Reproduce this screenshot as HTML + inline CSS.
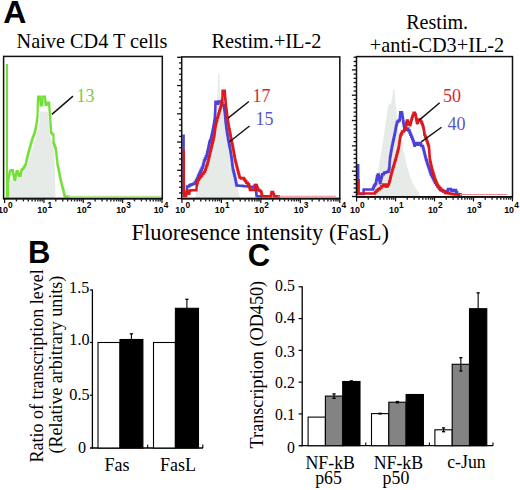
<!DOCTYPE html>
<html><head><meta charset="utf-8"><style>
html,body{margin:0;padding:0;background:#fff;}
body{width:520px;height:490px;overflow:hidden;}
svg{display:block;}
</style></head><body>
<svg width="520" height="490" viewBox="0 0 520 490">
<rect width="520" height="490" fill="#fff"/>
<text x="3.2" y="22.8" font-family="Liberation Sans" font-weight="bold" font-size="32">A</text>
<text x="27.9" y="262.8" font-family="Liberation Sans" font-weight="bold" font-size="31">B</text>
<text x="247.8" y="265.8" font-family="Liberation Sans" font-weight="bold" font-size="31">C</text>
<text x="16.5" y="47.8" font-family="Liberation Serif" font-size="20.3">Naive CD4 T cells</text>
<text x="211.4" y="48" font-family="Liberation Serif" font-size="20.3">Restim.+IL-2</text>
<text x="406.2" y="29" font-family="Liberation Serif" font-size="20.1">Restim.</text>
<text x="369.8" y="52" font-family="Liberation Serif" font-size="20.3">+anti-CD3+IL-2</text>
<text x="131.5" y="239.7" font-family="Liberation Serif" font-size="22.5">Fluoresence intensity (FasL)</text>
<polygon points="8.0,198.0 8.0,182.0 12.0,179.0 18.0,178.0 22.0,175.0 26.0,168.0 29.0,160.0 32.0,150.0 35.0,140.0 38.0,130.0 39.5,120.0 40.0,111.5 48.0,111.5 49.0,120.0 49.5,133.0 52.0,141.0 54.5,150.0 55.5,198.0" fill="#e7ebe7" stroke="none"/>
<polygon points="195.0,198.0 198.0,186.0 201.0,175.0 204.0,163.0 207.0,150.0 210.0,138.0 213.0,124.0 215.0,112.0 216.5,102.0 217.6,95.0 218.0,74.0 219.5,74.0 220.0,94.0 221.5,100.0 223.5,110.0 225.0,120.0 226.5,130.0 228.0,142.0 230.0,155.0 232.0,168.0 235.0,180.0 238.0,190.0 240.0,198.0" fill="#e7ebe7" stroke="none"/>
<polygon points="374.0,197.0 374.9,190.0 377.3,178.0 379.0,166.0 381.0,153.5 383.0,141.0 384.7,129.0 386.5,117.0 388.0,106.0 389.0,104.5 391.0,104.0 392.5,96.0 393.1,89.5 394.6,89.5 395.3,100.0 395.7,104.5 397.0,117.0 398.2,129.0 401.0,141.0 404.3,153.5 407.0,166.0 410.4,178.0 413.0,184.0 415.3,187.8 419.0,192.7 420.0,197.0" fill="#e7ebe7" stroke="none"/>
<polyline points="6.9,64.0 6.9,196.3 8.0,196.3 8.0,183.0 8.0,180.8 8.4,180.8 8.4,178.6 8.8,178.6 8.8,176.4 9.2,176.4 9.2,174.2 9.6,174.2 9.6,172.0 10.0,172.0 10.0,171.0 11.2,171.0 11.2,170.0 12.5,170.0 12.9,170.0 12.9,172.0 13.2,172.0 13.2,174.0 13.6,174.0 13.6,176.0 14.0,176.0 14.0,178.0 14.5,178.0 14.5,179.5 15.0,179.5 15.0,181.0 15.0,179.0 15.4,179.0 15.4,177.0 15.8,177.0 15.8,175.0 16.2,175.0 16.2,173.0 16.6,173.0 16.6,171.0 17.0,171.0 17.7,171.0 17.7,172.7 18.3,172.7 18.3,174.3 19.0,174.3 19.0,176.0 20.5,176.0 20.5,174.2 20.9,174.2 20.9,172.4 21.3,172.4 21.3,170.6 21.7,170.6 21.7,169.4 22.9,169.4 22.9,168.3 24.0,168.3 24.0,166.7 24.9,166.7 24.9,165.0 25.7,165.0 25.7,163.5 26.1,163.5 26.1,161.9 26.4,161.9 26.4,160.4 26.8,160.4 26.8,158.7 27.2,158.7 27.2,157.1 27.6,157.1 27.6,155.4 28.1,155.4 28.1,153.7 28.5,153.7 28.5,151.7 29.1,151.7 29.1,149.7 29.6,149.7 29.6,147.6 30.2,147.6 30.2,145.6 30.7,145.6 30.7,143.6 31.3,143.6 31.3,141.7 31.9,141.7 31.9,139.9 32.4,139.9 32.4,138.0 33.0,138.0 33.0,136.5 33.6,136.5 33.6,135.0 34.1,135.0 34.1,133.5 34.7,133.5 34.7,131.8 35.1,131.8 35.1,130.1 35.5,130.1 35.5,128.4 35.9,128.4 35.9,126.7 36.3,126.7 36.3,124.5 36.6,124.5 36.6,122.3 36.9,122.3 36.9,120.2 37.2,120.2 37.2,118.0 37.5,118.0 37.8,104.0 37.8,102.1 37.9,102.1 37.9,100.2 38.0,100.2 38.0,98.4 38.1,98.4 38.1,96.5 38.2,96.5 40.0,96.5 40.1,96.5 40.1,98.3 40.2,98.3 40.2,100.1 40.4,100.1 40.4,101.9 40.5,101.9 40.5,103.7 40.6,103.7 40.6,105.5 42.2,105.5 42.2,103.7 42.3,103.7 42.3,101.9 42.4,101.9 42.4,100.1 42.5,100.1 42.5,98.3 42.6,98.3 42.6,96.5 42.7,96.5 44.9,96.5 45.0,96.5 45.0,98.6 45.2,98.6 45.2,100.8 45.4,100.8 45.4,102.9 45.5,102.9 45.5,105.0 46.8,105.0 47.1,102.5 49.0,102.5 49.1,102.5 49.1,104.4 49.2,104.4 49.2,106.2 49.4,106.2 49.4,108.1 49.5,108.1 49.5,110.0 49.7,110.0 49.7,112.0 49.8,112.0 49.8,114.0 50.0,114.0 50.0,116.0 50.1,116.0 50.1,118.0 50.3,118.0 50.3,120.0 50.4,120.0 50.4,122.2 50.5,122.2 50.5,124.3 50.6,124.3 50.6,126.5 50.8,126.5 50.8,128.7 50.9,128.7 50.9,130.8 51.0,130.8 51.0,133.0 52.2,133.0 52.2,134.5 53.5,134.5 53.5,136.0 53.5,143.0 54.1,143.0 54.1,144.8 54.7,144.8 54.7,146.5 55.3,146.5 55.3,148.2 55.9,148.2 55.9,150.0 56.1,150.0 56.1,152.1 56.4,152.1 56.4,154.3 56.6,154.3 56.6,156.4 56.8,156.4 56.8,158.6 57.0,158.6 57.0,160.7 57.3,160.7 57.3,162.9 57.5,162.9 57.5,165.0 57.9,165.0 57.9,167.1 58.4,167.1 58.4,169.3 58.8,169.3 58.8,171.4 59.2,171.4 59.2,173.6 59.6,173.6 59.6,175.7 60.1,175.7 60.1,177.9 60.5,177.9 60.5,180.0 61.0,180.0 61.0,182.0 61.5,182.0 61.5,184.1 62.0,184.1 62.0,186.1 62.5,186.1 62.5,188.2 63.1,188.2 63.1,190.2 63.6,190.2 63.6,192.2 64.1,192.2 64.1,194.3 64.6,194.3 64.6,196.3 70.0,196.3" fill="none" stroke="#74df3a" stroke-width="2.2" stroke-linejoin="miter" stroke-linecap="butt"/>
<line x1="68" y1="196.4" x2="161.5" y2="196.4" stroke="#b8e89c" stroke-width="1.1"/>
<polyline points="183.6,134.6 183.6,193.0 187.0,193.0 187.0,186.5 189.0,186.5 189.0,185.6 190.3,185.6 190.3,184.7 191.7,184.7 191.7,184.2 193.3,184.2 193.3,183.8 194.9,183.8 194.9,181.9 196.1,181.9 196.1,180.1 197.2,180.1 197.2,178.0 198.1,178.0 198.1,175.8 199.0,175.8 199.0,173.7 199.9,173.7 199.9,171.7 200.8,171.7 200.8,169.7 201.8,169.7 201.8,167.7 202.7,167.7 202.7,166.0 203.1,166.0 203.1,164.4 203.6,164.4 203.6,162.7 204.0,162.7 204.0,160.6 204.9,160.6 204.9,158.4 205.9,158.4 205.9,156.3 206.8,156.3 206.8,154.2 207.2,154.2 207.2,152.2 207.7,152.2 207.7,150.1 208.2,150.1 208.2,148.0 208.6,148.0 208.6,146.3 208.9,146.3 208.9,144.7 209.3,144.7 209.3,143.0 209.6,143.0 209.6,141.6 210.2,141.6 210.2,140.2 210.8,140.2 210.8,138.5 211.2,138.5 211.2,136.8 211.6,136.8 211.6,135.2 212.0,135.2 212.0,133.5 212.4,133.5 212.4,131.4 212.8,131.4 212.8,129.4 213.2,129.4 213.2,127.3 213.6,127.3 213.6,125.5 213.9,125.5 213.9,123.7 214.2,123.7 214.2,121.8 214.5,121.8 214.5,120.0 214.8,120.0 214.8,118.0 214.9,118.0 214.9,116.0 215.0,116.0 215.0,114.0 215.1,114.0 215.1,112.0 215.2,112.0 215.2,110.0 215.3,110.0 215.5,101.7 217.0,101.7 217.5,101.7 217.5,103.3 218.0,103.3 218.0,105.0 218.0,103.2 218.5,103.2 218.5,101.5 219.0,101.5 221.6,101.5 222.1,101.5 222.1,103.2 222.5,103.2 222.5,105.0 223.8,105.0 223.8,106.1 224.1,106.1 224.1,108.2 224.4,108.2 224.4,110.4 224.7,110.4 224.7,112.5 224.9,112.5 224.9,114.3 225.1,114.3 225.1,116.2 225.2,116.2 225.2,118.0 225.4,118.0 225.4,119.9 225.6,119.9 225.6,121.7 225.8,121.7 225.8,123.8 226.1,123.8 226.1,125.8 226.3,125.8 226.3,127.9 226.6,127.9 226.6,130.0 226.9,130.0 226.9,132.0 227.2,132.0 227.2,134.0 227.6,134.0 227.6,136.0 227.9,136.0 227.9,138.0 228.2,138.0 228.2,140.0 228.6,140.0 228.6,142.0 229.0,142.0 229.0,144.0 229.4,144.0 229.4,146.0 229.8,146.0 229.8,148.0 230.2,148.0 230.2,150.0 230.5,150.0 230.5,151.7 230.7,151.7 230.7,153.3 231.0,153.3 231.0,155.0 231.3,155.0 231.3,157.1 231.6,157.1 231.6,159.3 231.9,159.3 231.9,161.4 232.1,161.4 232.1,163.6 232.4,163.6 232.4,165.7 232.7,165.7 232.7,167.9 233.0,167.9 233.0,170.0 233.5,170.0 233.5,172.0 234.0,172.0 234.0,174.0 234.5,174.0 234.5,176.0 235.0,176.0 235.0,178.0 235.4,178.0 235.4,179.9 235.8,179.9 235.8,181.8 236.1,181.8 236.1,183.6 236.5,183.6 236.5,185.5 238.4,185.5 238.4,185.7 240.3,185.7 240.3,185.8 242.2,185.8 242.2,186.0 244.2,186.0 244.2,186.2 246.1,186.2 246.1,186.3 248.0,186.3 248.0,186.5 250.0,186.5 250.0,187.0 252.0,187.0 252.0,187.5 254.0,187.5 254.0,188.0 254.0,186.5 254.8,186.5 254.8,185.0 255.6,185.0 255.8,185.0 255.8,187.2 256.0,187.2 256.0,189.4 256.1,189.4 256.1,191.6 256.3,191.6 256.3,193.8 256.5,193.8 256.5,196.0 258.0,196.2 262.0,196.2" fill="none" stroke="#4a40dc" stroke-width="2.5" stroke-linejoin="miter" stroke-linecap="butt"/>
<polyline points="183.8,150.0 183.8,196.0 186.0,196.0 186.0,194.3 186.3,194.3 186.3,192.7 186.7,192.7 186.7,191.0 187.0,191.0 188.0,191.0 188.0,193.0 189.0,193.0 189.0,195.0 189.0,193.1 189.4,193.1 189.4,191.1 189.8,191.1 189.8,190.6 191.2,190.6 191.2,190.2 192.6,190.2 196.3,190.2 196.7,186.5 196.7,184.7 197.2,184.7 197.2,182.8 197.6,182.8 197.6,181.0 198.1,181.0 198.1,179.7 199.0,179.7 199.0,178.3 199.9,178.3 199.9,176.9 201.1,176.9 201.1,175.5 202.2,175.5 202.2,173.7 203.6,173.7 203.6,171.9 205.0,171.9 205.0,169.7 205.8,169.7 205.8,167.6 206.5,167.6 206.5,165.4 207.3,165.4 207.3,163.6 207.8,163.6 207.8,161.8 208.2,161.8 208.2,159.9 208.7,159.9 208.7,158.1 209.1,158.1 209.1,156.3 209.6,156.3 209.6,154.4 210.0,154.4 210.0,152.6 210.4,152.6 210.4,150.8 210.9,150.8 210.9,148.9 211.3,148.9 211.3,147.1 211.8,147.1 211.8,145.2 212.2,145.2 212.2,143.3 212.7,143.3 212.7,141.2 213.2,141.2 213.2,139.2 213.7,139.2 213.7,137.1 214.2,137.1 214.2,135.1 214.5,135.1 214.5,133.2 214.7,133.2 214.7,131.2 215.0,131.2 215.0,129.3 215.2,129.3 215.2,127.3 215.5,127.3 215.5,125.5 215.9,125.5 215.9,123.7 216.3,123.7 216.3,121.8 216.8,121.8 216.8,120.0 217.2,120.0 217.2,117.8 217.9,117.8 217.9,115.6 218.5,115.6 218.5,113.4 219.2,113.4 219.2,111.3 219.8,111.3 219.8,109.3 220.4,109.3 220.4,107.2 221.0,107.2 221.0,105.4 221.3,105.4 221.3,103.6 221.7,103.6 221.7,101.8 222.1,101.8 222.1,100.0 222.4,100.0 222.6,90.8 224.8,90.8 225.2,98.8 225.4,98.8 225.4,100.6 225.6,100.6 225.6,102.4 225.7,102.4 225.7,104.3 225.9,104.3 225.9,106.1 226.1,106.1 226.1,107.9 226.3,107.9 226.3,109.8 226.6,109.8 226.6,111.6 226.8,111.6 226.8,113.5 227.0,113.5 227.0,115.3 227.3,115.3 227.3,117.4 227.6,117.4 227.6,119.6 227.9,119.6 227.9,121.7 228.2,121.7 228.2,123.5 228.5,123.5 228.5,125.4 228.8,125.4 228.8,127.2 229.2,127.2 229.2,129.3 229.6,129.3 229.6,131.5 230.0,131.5 230.0,133.6 230.4,133.6 230.4,135.7 230.8,135.7 230.8,137.9 231.2,137.9 231.2,140.0 231.6,140.0 231.6,142.0 232.0,142.0 232.0,144.0 232.5,144.0 232.5,146.0 232.9,146.0 232.9,148.0 233.3,148.0 233.3,150.0 233.6,150.0 233.6,152.0 234.0,152.0 234.0,154.0 234.3,154.0 234.3,156.0 234.7,156.0 234.7,158.0 235.0,158.0 235.0,160.0 235.5,160.0 235.5,162.0 236.0,162.0 236.0,164.0 236.5,164.0 236.5,166.0 237.0,166.0 237.0,168.0 237.5,168.0 237.5,170.0 238.0,170.0 238.0,172.0 238.5,172.0 238.5,173.8 239.0,173.8 239.0,175.5 239.5,175.5 239.5,177.2 240.0,177.2 240.0,179.0 240.0,178.5 241.5,178.5 241.5,178.0 243.0,178.0 244.0,178.0 244.0,179.5 245.0,179.5 245.0,181.0 246.3,181.0 246.3,182.7 247.7,182.7 247.7,184.3 249.0,184.3 249.0,186.0 249.5,186.0 249.5,188.0 250.0,188.0 250.0,190.0 255.0,190.0 255.0,188.3 255.3,188.3 255.3,186.7 255.7,186.7 255.7,185.0 256.0,185.0 256.7,185.0 256.7,186.7 257.3,186.7 257.3,188.3 258.0,188.3 258.0,190.0 259.5,190.0 259.5,191.0 261.0,191.0 261.0,192.0 261.5,192.0 261.5,194.1 262.0,194.1 262.0,196.2 271.0,196.2 271.0,194.1 271.5,194.1 271.5,192.0 272.0,192.0 273.0,192.0 273.0,194.1 274.0,194.1 274.0,196.2 280.0,196.2" fill="none" stroke="#dc1a1e" stroke-width="2.5" stroke-linejoin="miter" stroke-linecap="butt"/>
<line x1="278" y1="196.3" x2="336" y2="196.3" stroke="#ea8a8e" stroke-width="1.1"/>
<polyline points="358.2,164.0 358.2,194.0 363.6,194.0 363.6,189.6 373.0,189.6 373.0,188.3 373.5,188.3 373.5,187.0 374.0,187.0 374.0,185.5 375.0,185.5 375.0,184.0 376.0,184.0 376.0,182.0 376.3,182.0 376.3,180.0 376.7,180.0 376.7,178.0 377.0,178.0 377.0,176.2 377.7,176.2 377.7,174.4 378.4,174.4 378.7,174.4 378.7,176.4 379.1,176.4 379.1,178.4 379.4,178.4 379.4,180.5 379.8,180.5 379.8,182.5 380.1,182.5 380.1,184.5 380.1,182.4 380.6,182.4 380.6,180.2 381.1,180.2 381.1,178.1 381.7,178.1 381.7,176.0 382.2,176.0 382.2,174.3 383.9,174.3 383.9,172.7 385.6,172.7 385.6,172.2 387.1,172.2 387.1,171.8 388.6,171.8 388.6,170.2 389.0,170.2 389.0,168.5 389.4,168.5 389.4,166.4 389.5,166.4 389.5,164.2 389.6,164.2 389.6,162.1 389.8,162.1 389.8,160.0 389.9,160.0 389.9,158.0 390.2,158.0 390.2,156.1 390.6,156.1 390.6,154.1 390.9,154.1 390.9,152.1 391.2,152.1 391.2,150.2 391.6,150.2 391.6,148.2 391.9,148.2 391.9,146.0 392.4,146.0 392.4,143.9 392.8,143.9 392.8,141.7 393.3,141.7 393.3,139.6 393.8,139.6 393.8,137.4 394.2,137.4 394.2,135.3 394.7,135.3 394.7,133.5 395.0,133.5 395.0,131.7 395.4,131.7 395.4,129.8 395.7,129.8 395.7,128.0 396.0,128.0 396.0,126.1 396.5,126.1 396.5,124.3 396.9,124.3 396.9,122.4 397.4,122.4 397.4,121.5 398.5,121.5 398.5,120.6 399.7,120.6 399.7,118.4 399.9,118.4 399.9,116.2 400.1,116.2 400.1,114.0 400.3,114.0 400.3,112.3 401.1,112.3 401.8,112.3 402.0,112.3 402.0,113.9 402.3,113.9 402.3,115.4 402.5,115.4 402.5,117.0 402.8,117.0 402.8,119.1 403.1,119.1 403.1,121.2 403.4,121.2 403.4,123.3 403.7,123.3 403.7,124.9 404.0,124.9 404.0,126.4 404.3,126.4 404.3,128.0 405.0,128.0 405.0,129.5 405.7,129.5 405.7,131.0 405.7,129.8 406.4,129.8 406.4,128.6 407.0,128.6 408.3,128.6 408.3,130.6 409.6,130.6 409.6,132.7 410.4,132.7 410.4,134.7 411.3,134.7 411.3,136.8 412.1,136.8 412.1,138.8 412.9,138.8 412.9,140.9 413.7,140.9 413.7,142.9 414.2,142.9 414.2,144.9 414.7,144.9 414.7,147.0 414.7,145.0 415.4,145.0 415.4,143.0 416.2,143.0 417.2,143.0 417.2,144.5 418.3,144.5 418.3,146.0 418.3,144.5 419.1,144.5 419.1,143.0 419.8,143.0 420.6,143.0 420.6,144.5 421.3,144.5 421.3,146.0 422.5,146.0 423.0,146.0 423.0,148.0 423.5,148.0 423.5,150.0 424.0,150.0 424.0,152.0 424.5,152.0 424.5,154.0 425.0,154.0 425.0,156.0 425.5,156.0 425.5,158.0 426.0,158.0 426.0,160.0 426.7,160.0 426.7,162.0 427.3,162.0 427.3,164.0 428.0,164.0 428.0,166.0 428.6,166.0 428.6,167.8 429.2,167.8 429.2,169.6 429.8,169.6 429.8,171.4 430.4,171.4 430.4,173.2 431.0,173.2 431.0,175.0 432.0,175.0 432.0,177.0 433.0,177.0 433.0,179.0 434.0,179.0 434.0,181.0 435.0,181.0 435.0,183.0 436.2,183.0 436.2,184.8 437.5,184.8 437.5,186.5 438.8,186.5 438.8,188.2 440.0,188.2 440.0,190.0 441.7,190.0 441.7,190.7 443.3,190.7 443.3,191.3 445.0,191.3 445.0,192.0 445.0,191.5 446.5,191.5 446.5,191.0 448.0,191.0 448.0,189.0 450.0,189.0 451.0,189.0 451.0,190.5 452.0,190.5 452.0,192.0 452.0,191.0 453.5,191.0 453.5,190.0 455.0,190.0 456.0,190.0 456.0,192.0 457.0,192.0 457.0,194.0 458.5,194.0 458.5,194.5 460.0,194.5 460.0,195.0" fill="none" stroke="#4a40dc" stroke-width="2.5" stroke-linejoin="miter" stroke-linecap="butt"/>
<polyline points="358.6,179.0 358.6,193.4 375.0,193.4 375.0,191.9 376.5,191.9 376.5,190.4 378.0,190.4 378.0,189.2 379.7,189.2 379.7,188.0 381.4,188.0 381.4,186.2 383.1,186.2 383.1,184.5 384.8,184.5 385.6,184.5 385.6,186.2 386.5,186.2 386.5,188.0 386.5,186.2 387.8,186.2 387.8,184.5 389.0,184.5 389.0,182.8 389.4,182.8 389.4,181.2 389.9,181.2 389.9,179.5 390.3,179.5 390.3,177.8 390.7,177.8 390.7,176.1 391.1,176.1 391.1,174.4 391.5,174.4 391.5,172.4 392.1,172.4 392.1,170.5 392.6,170.5 392.6,168.5 393.2,168.5 393.2,166.4 393.9,166.4 393.9,164.2 394.5,164.2 394.5,162.1 395.1,162.1 395.1,160.0 395.8,160.0 395.8,158.5 396.1,158.5 396.1,157.0 396.5,157.0 396.5,155.2 397.0,155.2 397.0,153.5 397.4,153.5 397.4,151.7 397.9,151.7 397.9,150.0 398.3,150.0 398.3,148.2 398.8,148.2 398.8,146.0 399.1,146.0 399.1,143.9 399.4,143.9 399.4,141.7 399.7,141.7 399.7,139.9 400.0,139.9 400.0,138.0 400.3,138.0 400.3,136.2 400.6,136.2 400.6,134.8 401.3,134.8 401.3,133.5 402.0,133.5 402.0,131.6 403.9,131.6 403.9,130.2 404.8,130.2 404.8,128.9 405.7,128.9 405.7,127.0 406.0,127.0 406.0,125.2 406.3,125.2 406.3,123.3 406.6,123.3 406.6,121.8 406.9,121.8 406.9,120.4 407.2,120.4 407.9,120.4 407.9,122.5 408.6,122.5 408.6,124.5 410.1,124.5 410.1,126.5 410.1,124.5 410.6,124.5 410.6,122.4 411.1,122.4 411.1,120.4 411.6,120.4 411.6,118.5 412.2,118.5 412.2,116.6 412.9,116.6 412.9,114.7 413.6,114.7 413.6,112.8 414.2,112.8 414.9,112.8 414.9,114.5 415.7,114.5 415.7,116.3 416.1,116.3 416.1,118.3 416.4,118.3 416.4,120.4 416.8,120.4 416.8,122.5 417.2,122.5 417.2,124.5 417.2,122.8 417.9,122.8 417.9,121.1 418.6,121.1 418.6,119.4 419.3,119.4 420.3,119.4 420.3,120.9 421.3,120.9 421.3,122.4 422.1,122.4 422.1,124.5 422.9,124.5 422.9,126.5 423.4,126.5 423.4,128.6 423.9,128.6 423.9,130.6 424.1,130.6 424.1,132.6 424.4,132.6 424.4,134.7 425.1,134.7 425.1,136.8 425.9,136.8 425.9,138.8 426.6,138.8 426.6,140.9 427.4,140.9 427.4,142.9 427.9,142.9 427.9,144.6 428.5,144.6 428.5,146.3 429.0,146.3 429.0,148.0 429.1,148.0 429.1,150.0 429.3,150.0 429.3,152.0 429.4,152.0 429.4,154.0 429.5,154.0 429.5,156.0 429.7,156.0 429.7,158.0 429.8,158.0 429.8,160.0 430.2,160.0 430.2,162.0 430.7,162.0 430.7,164.0 431.1,164.0 431.1,166.0 431.6,166.0 431.6,168.0 432.0,168.0 432.0,170.0 432.6,170.0 432.6,172.0 433.2,172.0 433.2,174.0 433.8,174.0 433.8,176.0 434.4,176.0 434.4,178.0 435.0,178.0 435.0,180.0 435.8,180.0 435.8,181.8 436.5,181.8 436.5,183.5 437.2,183.5 437.2,185.2 438.0,185.2 438.0,187.0 439.5,187.0 439.5,188.5 441.0,188.5 441.0,190.0 443.0,190.0 443.0,191.5 445.0,191.5 445.0,193.0 447.0,193.0 447.0,193.3 449.0,193.3 449.0,193.6 451.0,193.6 451.0,193.9 453.0,193.9 453.0,194.2 455.0,194.2 455.0,194.5 462.0,194.5" fill="none" stroke="#dc1a1e" stroke-width="2.5" stroke-linejoin="miter" stroke-linecap="butt"/>
<line x1="460" y1="194.5" x2="507.5" y2="194.5" stroke="#ea8a8e" stroke-width="1.1"/>
<rect x="3.6" y="56.4" width="158.70000000000002" height="142.2" fill="none" stroke="#111" stroke-width="1.5"/>
<line x1="3.1" y1="198.6" x2="162.8" y2="198.6" stroke="#111" stroke-width="1.9"/>
<line x1="4.6" y1="198.6" x2="4.6" y2="203.1" stroke="#111" stroke-width="1.2"/>
<line x1="16.44553032937766" y1="198.6" x2="16.44553032937766" y2="201.4" stroke="#222" stroke-width="1.4"/>
<line x1="23.37472137321872" y1="198.6" x2="23.37472137321872" y2="201.4" stroke="#222" stroke-width="1.4"/>
<line x1="28.29106065875532" y1="198.6" x2="28.29106065875532" y2="201.4" stroke="#222" stroke-width="1.4"/>
<line x1="32.10446967062234" y1="198.6" x2="32.10446967062234" y2="201.4" stroke="#222" stroke-width="1.4"/>
<line x1="35.22025170259638" y1="198.6" x2="35.22025170259638" y2="201.4" stroke="#222" stroke-width="1.4"/>
<line x1="37.85460787456101" y1="198.6" x2="37.85460787456101" y2="201.4" stroke="#222" stroke-width="1.4"/>
<line x1="40.13659098813298" y1="198.6" x2="40.13659098813298" y2="201.4" stroke="#222" stroke-width="1.4"/>
<line x1="42.14944274643744" y1="198.6" x2="42.14944274643744" y2="201.4" stroke="#222" stroke-width="1.4"/>
<line x1="43.95" y1="198.6" x2="43.95" y2="203.1" stroke="#111" stroke-width="1.2"/>
<line x1="55.79553032937766" y1="198.6" x2="55.79553032937766" y2="201.4" stroke="#222" stroke-width="1.4"/>
<line x1="62.72472137321872" y1="198.6" x2="62.72472137321872" y2="201.4" stroke="#222" stroke-width="1.4"/>
<line x1="67.64106065875532" y1="198.6" x2="67.64106065875532" y2="201.4" stroke="#222" stroke-width="1.4"/>
<line x1="71.45446967062233" y1="198.6" x2="71.45446967062233" y2="201.4" stroke="#222" stroke-width="1.4"/>
<line x1="74.57025170259638" y1="198.6" x2="74.57025170259638" y2="201.4" stroke="#222" stroke-width="1.4"/>
<line x1="77.204607874561" y1="198.6" x2="77.204607874561" y2="201.4" stroke="#222" stroke-width="1.4"/>
<line x1="79.48659098813297" y1="198.6" x2="79.48659098813297" y2="201.4" stroke="#222" stroke-width="1.4"/>
<line x1="81.49944274643742" y1="198.6" x2="81.49944274643742" y2="201.4" stroke="#222" stroke-width="1.4"/>
<line x1="83.3" y1="198.6" x2="83.3" y2="203.1" stroke="#111" stroke-width="1.2"/>
<line x1="95.14553032937766" y1="198.6" x2="95.14553032937766" y2="201.4" stroke="#222" stroke-width="1.4"/>
<line x1="102.07472137321872" y1="198.6" x2="102.07472137321872" y2="201.4" stroke="#222" stroke-width="1.4"/>
<line x1="106.99106065875532" y1="198.6" x2="106.99106065875532" y2="201.4" stroke="#222" stroke-width="1.4"/>
<line x1="110.80446967062234" y1="198.6" x2="110.80446967062234" y2="201.4" stroke="#222" stroke-width="1.4"/>
<line x1="113.92025170259639" y1="198.6" x2="113.92025170259639" y2="201.4" stroke="#222" stroke-width="1.4"/>
<line x1="116.55460787456101" y1="198.6" x2="116.55460787456101" y2="201.4" stroke="#222" stroke-width="1.4"/>
<line x1="118.83659098813298" y1="198.6" x2="118.83659098813298" y2="201.4" stroke="#222" stroke-width="1.4"/>
<line x1="120.84944274643743" y1="198.6" x2="120.84944274643743" y2="201.4" stroke="#222" stroke-width="1.4"/>
<line x1="122.65" y1="198.6" x2="122.65" y2="203.1" stroke="#111" stroke-width="1.2"/>
<line x1="134.49553032937766" y1="198.6" x2="134.49553032937766" y2="201.4" stroke="#222" stroke-width="1.4"/>
<line x1="141.42472137321872" y1="198.6" x2="141.42472137321872" y2="201.4" stroke="#222" stroke-width="1.4"/>
<line x1="146.3410606587553" y1="198.6" x2="146.3410606587553" y2="201.4" stroke="#222" stroke-width="1.4"/>
<line x1="150.15446967062235" y1="198.6" x2="150.15446967062235" y2="201.4" stroke="#222" stroke-width="1.4"/>
<line x1="153.2702517025964" y1="198.6" x2="153.2702517025964" y2="201.4" stroke="#222" stroke-width="1.4"/>
<line x1="155.904607874561" y1="198.6" x2="155.904607874561" y2="201.4" stroke="#222" stroke-width="1.4"/>
<line x1="158.186590988133" y1="198.6" x2="158.186590988133" y2="201.4" stroke="#222" stroke-width="1.4"/>
<line x1="160.19944274643743" y1="198.6" x2="160.19944274643743" y2="201.4" stroke="#222" stroke-width="1.4"/>
<line x1="162.0" y1="198.6" x2="162.0" y2="203.1" stroke="#111" stroke-width="1.2"/>
<text x="7.9" y="212.7" font-family="Liberation Sans" font-size="8.9" font-weight="bold" text-anchor="end">10</text>
<text x="8.1" y="207.6" font-family="Liberation Sans" font-size="8.3" font-weight="bold">0</text>
<text x="47.2" y="212.7" font-family="Liberation Sans" font-size="8.9" font-weight="bold" text-anchor="end">10</text>
<text x="47.5" y="207.6" font-family="Liberation Sans" font-size="8.3" font-weight="bold">1</text>
<text x="86.6" y="212.7" font-family="Liberation Sans" font-size="8.9" font-weight="bold" text-anchor="end">10</text>
<text x="86.8" y="207.6" font-family="Liberation Sans" font-size="8.3" font-weight="bold">2</text>
<text x="126.0" y="212.7" font-family="Liberation Sans" font-size="8.9" font-weight="bold" text-anchor="end">10</text>
<text x="126.2" y="207.6" font-family="Liberation Sans" font-size="8.3" font-weight="bold">3</text>
<text x="163.5" y="212.7" font-family="Liberation Sans" font-size="8.9" font-weight="bold" text-anchor="end">10</text>
<text x="163.7" y="207.6" font-family="Liberation Sans" font-size="8.3" font-weight="bold">4</text>
<rect x="181.7" y="56.9" width="158.10000000000002" height="141.7" fill="none" stroke="#111" stroke-width="1.5"/>
<line x1="181.2" y1="198.6" x2="340.3" y2="198.6" stroke="#111" stroke-width="1.9"/>
<line x1="181.9" y1="198.6" x2="181.9" y2="203.1" stroke="#111" stroke-width="1.2"/>
<line x1="193.78165392885734" y1="198.6" x2="193.78165392885734" y2="201.4" stroke="#222" stroke-width="1.4"/>
<line x1="200.7319759237851" y1="198.6" x2="200.7319759237851" y2="201.4" stroke="#222" stroke-width="1.4"/>
<line x1="205.66330785771467" y1="198.6" x2="205.66330785771467" y2="201.4" stroke="#222" stroke-width="1.4"/>
<line x1="209.48834607114267" y1="198.6" x2="209.48834607114267" y2="201.4" stroke="#222" stroke-width="1.4"/>
<line x1="212.61362985264242" y1="198.6" x2="212.61362985264242" y2="201.4" stroke="#222" stroke-width="1.4"/>
<line x1="215.2560196393627" y1="198.6" x2="215.2560196393627" y2="201.4" stroke="#222" stroke-width="1.4"/>
<line x1="217.544961786572" y1="198.6" x2="217.544961786572" y2="201.4" stroke="#222" stroke-width="1.4"/>
<line x1="219.56395184757017" y1="198.6" x2="219.56395184757017" y2="201.4" stroke="#222" stroke-width="1.4"/>
<line x1="221.37" y1="198.6" x2="221.37" y2="203.1" stroke="#111" stroke-width="1.2"/>
<line x1="233.25165392885734" y1="198.6" x2="233.25165392885734" y2="201.4" stroke="#222" stroke-width="1.4"/>
<line x1="240.20197592378508" y1="198.6" x2="240.20197592378508" y2="201.4" stroke="#222" stroke-width="1.4"/>
<line x1="245.13330785771467" y1="198.6" x2="245.13330785771467" y2="201.4" stroke="#222" stroke-width="1.4"/>
<line x1="248.95834607114267" y1="198.6" x2="248.95834607114267" y2="201.4" stroke="#222" stroke-width="1.4"/>
<line x1="252.08362985264242" y1="198.6" x2="252.08362985264242" y2="201.4" stroke="#222" stroke-width="1.4"/>
<line x1="254.72601963936273" y1="198.6" x2="254.72601963936273" y2="201.4" stroke="#222" stroke-width="1.4"/>
<line x1="257.01496178657203" y1="198.6" x2="257.01496178657203" y2="201.4" stroke="#222" stroke-width="1.4"/>
<line x1="259.03395184757017" y1="198.6" x2="259.03395184757017" y2="201.4" stroke="#222" stroke-width="1.4"/>
<line x1="260.84000000000003" y1="198.6" x2="260.84000000000003" y2="203.1" stroke="#111" stroke-width="1.2"/>
<line x1="272.72165392885734" y1="198.6" x2="272.72165392885734" y2="201.4" stroke="#222" stroke-width="1.4"/>
<line x1="279.6719759237851" y1="198.6" x2="279.6719759237851" y2="201.4" stroke="#222" stroke-width="1.4"/>
<line x1="284.6033078577147" y1="198.6" x2="284.6033078577147" y2="201.4" stroke="#222" stroke-width="1.4"/>
<line x1="288.42834607114264" y1="198.6" x2="288.42834607114264" y2="201.4" stroke="#222" stroke-width="1.4"/>
<line x1="291.5536298526424" y1="198.6" x2="291.5536298526424" y2="201.4" stroke="#222" stroke-width="1.4"/>
<line x1="294.1960196393627" y1="198.6" x2="294.1960196393627" y2="201.4" stroke="#222" stroke-width="1.4"/>
<line x1="296.48496178657206" y1="198.6" x2="296.48496178657206" y2="201.4" stroke="#222" stroke-width="1.4"/>
<line x1="298.50395184757014" y1="198.6" x2="298.50395184757014" y2="201.4" stroke="#222" stroke-width="1.4"/>
<line x1="300.31" y1="198.6" x2="300.31" y2="203.1" stroke="#111" stroke-width="1.2"/>
<line x1="312.19165392885736" y1="198.6" x2="312.19165392885736" y2="201.4" stroke="#222" stroke-width="1.4"/>
<line x1="319.1419759237851" y1="198.6" x2="319.1419759237851" y2="201.4" stroke="#222" stroke-width="1.4"/>
<line x1="324.07330785771467" y1="198.6" x2="324.07330785771467" y2="201.4" stroke="#222" stroke-width="1.4"/>
<line x1="327.89834607114267" y1="198.6" x2="327.89834607114267" y2="201.4" stroke="#222" stroke-width="1.4"/>
<line x1="331.02362985264244" y1="198.6" x2="331.02362985264244" y2="201.4" stroke="#222" stroke-width="1.4"/>
<line x1="333.66601963936273" y1="198.6" x2="333.66601963936273" y2="201.4" stroke="#222" stroke-width="1.4"/>
<line x1="335.954961786572" y1="198.6" x2="335.954961786572" y2="201.4" stroke="#222" stroke-width="1.4"/>
<line x1="337.97395184757016" y1="198.6" x2="337.97395184757016" y2="201.4" stroke="#222" stroke-width="1.4"/>
<line x1="339.78" y1="198.6" x2="339.78" y2="203.1" stroke="#111" stroke-width="1.2"/>
<text x="185.2" y="212.7" font-family="Liberation Sans" font-size="8.9" font-weight="bold" text-anchor="end">10</text>
<text x="185.4" y="207.6" font-family="Liberation Sans" font-size="8.3" font-weight="bold">0</text>
<text x="224.7" y="212.7" font-family="Liberation Sans" font-size="8.9" font-weight="bold" text-anchor="end">10</text>
<text x="224.9" y="207.6" font-family="Liberation Sans" font-size="8.3" font-weight="bold">1</text>
<text x="264.1" y="212.7" font-family="Liberation Sans" font-size="8.9" font-weight="bold" text-anchor="end">10</text>
<text x="264.3" y="207.6" font-family="Liberation Sans" font-size="8.3" font-weight="bold">2</text>
<text x="303.6" y="212.7" font-family="Liberation Sans" font-size="8.9" font-weight="bold" text-anchor="end">10</text>
<text x="303.8" y="207.6" font-family="Liberation Sans" font-size="8.3" font-weight="bold">3</text>
<text x="341.3" y="212.7" font-family="Liberation Sans" font-size="8.9" font-weight="bold" text-anchor="end">10</text>
<text x="341.5" y="207.6" font-family="Liberation Sans" font-size="8.3" font-weight="bold">4</text>
<rect x="356.5" y="56.6" width="156.0" height="140.3" fill="none" stroke="#111" stroke-width="1.5"/>
<line x1="356.0" y1="196.9" x2="513.0" y2="196.9" stroke="#111" stroke-width="1.9"/>
<line x1="356.6" y1="196.9" x2="356.6" y2="201.4" stroke="#111" stroke-width="1.2"/>
<line x1="368.33113893102535" y1="196.9" x2="368.33113893102535" y2="199.70000000000002" stroke="#222" stroke-width="1.4"/>
<line x1="375.19341529642526" y1="196.9" x2="375.19341529642526" y2="199.70000000000002" stroke="#222" stroke-width="1.4"/>
<line x1="380.06227786205073" y1="196.9" x2="380.06227786205073" y2="199.70000000000002" stroke="#222" stroke-width="1.4"/>
<line x1="383.83886106897467" y1="196.9" x2="383.83886106897467" y2="199.70000000000002" stroke="#222" stroke-width="1.4"/>
<line x1="386.9245542274506" y1="196.9" x2="386.9245542274506" y2="199.70000000000002" stroke="#222" stroke-width="1.4"/>
<line x1="389.5334706193556" y1="196.9" x2="389.5334706193556" y2="199.70000000000002" stroke="#222" stroke-width="1.4"/>
<line x1="391.79341679307606" y1="196.9" x2="391.79341679307606" y2="199.70000000000002" stroke="#222" stroke-width="1.4"/>
<line x1="393.7868305928505" y1="196.9" x2="393.7868305928505" y2="199.70000000000002" stroke="#222" stroke-width="1.4"/>
<line x1="395.57000000000005" y1="196.9" x2="395.57000000000005" y2="201.4" stroke="#111" stroke-width="1.2"/>
<line x1="407.3011389310254" y1="196.9" x2="407.3011389310254" y2="199.70000000000002" stroke="#222" stroke-width="1.4"/>
<line x1="414.1634152964253" y1="196.9" x2="414.1634152964253" y2="199.70000000000002" stroke="#222" stroke-width="1.4"/>
<line x1="419.0322778620507" y1="196.9" x2="419.0322778620507" y2="199.70000000000002" stroke="#222" stroke-width="1.4"/>
<line x1="422.8088610689747" y1="196.9" x2="422.8088610689747" y2="199.70000000000002" stroke="#222" stroke-width="1.4"/>
<line x1="425.8945542274506" y1="196.9" x2="425.8945542274506" y2="199.70000000000002" stroke="#222" stroke-width="1.4"/>
<line x1="428.5034706193556" y1="196.9" x2="428.5034706193556" y2="199.70000000000002" stroke="#222" stroke-width="1.4"/>
<line x1="430.7634167930761" y1="196.9" x2="430.7634167930761" y2="199.70000000000002" stroke="#222" stroke-width="1.4"/>
<line x1="432.7568305928505" y1="196.9" x2="432.7568305928505" y2="199.70000000000002" stroke="#222" stroke-width="1.4"/>
<line x1="434.54" y1="196.9" x2="434.54" y2="201.4" stroke="#111" stroke-width="1.2"/>
<line x1="446.27113893102535" y1="196.9" x2="446.27113893102535" y2="199.70000000000002" stroke="#222" stroke-width="1.4"/>
<line x1="453.13341529642526" y1="196.9" x2="453.13341529642526" y2="199.70000000000002" stroke="#222" stroke-width="1.4"/>
<line x1="458.00227786205073" y1="196.9" x2="458.00227786205073" y2="199.70000000000002" stroke="#222" stroke-width="1.4"/>
<line x1="461.77886106897466" y1="196.9" x2="461.77886106897466" y2="199.70000000000002" stroke="#222" stroke-width="1.4"/>
<line x1="464.86455422745064" y1="196.9" x2="464.86455422745064" y2="199.70000000000002" stroke="#222" stroke-width="1.4"/>
<line x1="467.4734706193556" y1="196.9" x2="467.4734706193556" y2="199.70000000000002" stroke="#222" stroke-width="1.4"/>
<line x1="469.73341679307606" y1="196.9" x2="469.73341679307606" y2="199.70000000000002" stroke="#222" stroke-width="1.4"/>
<line x1="471.7268305928505" y1="196.9" x2="471.7268305928505" y2="199.70000000000002" stroke="#222" stroke-width="1.4"/>
<line x1="473.51" y1="196.9" x2="473.51" y2="201.4" stroke="#111" stroke-width="1.2"/>
<line x1="485.2411389310254" y1="196.9" x2="485.2411389310254" y2="199.70000000000002" stroke="#222" stroke-width="1.4"/>
<line x1="492.1034152964253" y1="196.9" x2="492.1034152964253" y2="199.70000000000002" stroke="#222" stroke-width="1.4"/>
<line x1="496.97227786205076" y1="196.9" x2="496.97227786205076" y2="199.70000000000002" stroke="#222" stroke-width="1.4"/>
<line x1="500.74886106897463" y1="196.9" x2="500.74886106897463" y2="199.70000000000002" stroke="#222" stroke-width="1.4"/>
<line x1="503.8345542274506" y1="196.9" x2="503.8345542274506" y2="199.70000000000002" stroke="#222" stroke-width="1.4"/>
<line x1="506.4434706193556" y1="196.9" x2="506.4434706193556" y2="199.70000000000002" stroke="#222" stroke-width="1.4"/>
<line x1="508.70341679307603" y1="196.9" x2="508.70341679307603" y2="199.70000000000002" stroke="#222" stroke-width="1.4"/>
<line x1="510.6968305928505" y1="196.9" x2="510.6968305928505" y2="199.70000000000002" stroke="#222" stroke-width="1.4"/>
<line x1="512.48" y1="196.9" x2="512.48" y2="201.4" stroke="#111" stroke-width="1.2"/>
<text x="359.9" y="212.7" font-family="Liberation Sans" font-size="8.9" font-weight="bold" text-anchor="end">10</text>
<text x="360.1" y="207.6" font-family="Liberation Sans" font-size="8.3" font-weight="bold">0</text>
<text x="398.9" y="212.7" font-family="Liberation Sans" font-size="8.9" font-weight="bold" text-anchor="end">10</text>
<text x="399.1" y="207.6" font-family="Liberation Sans" font-size="8.3" font-weight="bold">1</text>
<text x="437.8" y="212.7" font-family="Liberation Sans" font-size="8.9" font-weight="bold" text-anchor="end">10</text>
<text x="438.0" y="207.6" font-family="Liberation Sans" font-size="8.3" font-weight="bold">2</text>
<text x="476.8" y="212.7" font-family="Liberation Sans" font-size="8.9" font-weight="bold" text-anchor="end">10</text>
<text x="477.0" y="207.6" font-family="Liberation Sans" font-size="8.3" font-weight="bold">3</text>
<text x="514.0" y="212.7" font-family="Liberation Sans" font-size="8.9" font-weight="bold" text-anchor="end">10</text>
<text x="514.2" y="207.6" font-family="Liberation Sans" font-size="8.3" font-weight="bold">4</text>
<line x1="177.1" y1="57.3" x2="181.7" y2="57.3" stroke="#111" stroke-width="1.3"/>
<line x1="179.1" y1="62.949999999999996" x2="181.7" y2="62.949999999999996" stroke="#111" stroke-width="1.3"/>
<line x1="179.1" y1="68.6" x2="181.7" y2="68.6" stroke="#111" stroke-width="1.3"/>
<line x1="179.1" y1="74.25" x2="181.7" y2="74.25" stroke="#111" stroke-width="1.3"/>
<line x1="179.1" y1="79.9" x2="181.7" y2="79.9" stroke="#111" stroke-width="1.3"/>
<line x1="177.1" y1="85.55" x2="181.7" y2="85.55" stroke="#111" stroke-width="1.3"/>
<line x1="179.1" y1="91.2" x2="181.7" y2="91.2" stroke="#111" stroke-width="1.3"/>
<line x1="179.1" y1="96.85" x2="181.7" y2="96.85" stroke="#111" stroke-width="1.3"/>
<line x1="179.1" y1="102.5" x2="181.7" y2="102.5" stroke="#111" stroke-width="1.3"/>
<line x1="179.1" y1="108.15" x2="181.7" y2="108.15" stroke="#111" stroke-width="1.3"/>
<line x1="177.1" y1="113.8" x2="181.7" y2="113.8" stroke="#111" stroke-width="1.3"/>
<line x1="179.1" y1="119.45" x2="181.7" y2="119.45" stroke="#111" stroke-width="1.3"/>
<line x1="179.1" y1="125.10000000000001" x2="181.7" y2="125.10000000000001" stroke="#111" stroke-width="1.3"/>
<line x1="179.1" y1="130.75" x2="181.7" y2="130.75" stroke="#111" stroke-width="1.3"/>
<line x1="179.1" y1="136.4" x2="181.7" y2="136.4" stroke="#111" stroke-width="1.3"/>
<line x1="177.1" y1="142.05" x2="181.7" y2="142.05" stroke="#111" stroke-width="1.3"/>
<line x1="179.1" y1="147.7" x2="181.7" y2="147.7" stroke="#111" stroke-width="1.3"/>
<line x1="179.1" y1="153.35000000000002" x2="181.7" y2="153.35000000000002" stroke="#111" stroke-width="1.3"/>
<line x1="179.1" y1="159.0" x2="181.7" y2="159.0" stroke="#111" stroke-width="1.3"/>
<line x1="179.1" y1="164.65" x2="181.7" y2="164.65" stroke="#111" stroke-width="1.3"/>
<line x1="177.1" y1="170.3" x2="181.7" y2="170.3" stroke="#111" stroke-width="1.3"/>
<line x1="179.1" y1="175.95" x2="181.7" y2="175.95" stroke="#111" stroke-width="1.3"/>
<line x1="179.1" y1="181.60000000000002" x2="181.7" y2="181.60000000000002" stroke="#111" stroke-width="1.3"/>
<line x1="179.1" y1="187.25" x2="181.7" y2="187.25" stroke="#111" stroke-width="1.3"/>
<line x1="179.1" y1="192.90000000000003" x2="181.7" y2="192.90000000000003" stroke="#111" stroke-width="1.3"/>
<line x1="177.1" y1="198.55" x2="181.7" y2="198.55" stroke="#111" stroke-width="1.3"/>
<line x1="351.9" y1="196.5" x2="356.5" y2="196.5" stroke="#111" stroke-width="1.3"/>
<line x1="353.6" y1="192.28" x2="356.5" y2="192.28" stroke="#111" stroke-width="1.3"/>
<line x1="353.6" y1="188.06" x2="356.5" y2="188.06" stroke="#111" stroke-width="1.3"/>
<line x1="353.6" y1="183.84" x2="356.5" y2="183.84" stroke="#111" stroke-width="1.3"/>
<line x1="353.6" y1="179.62" x2="356.5" y2="179.62" stroke="#111" stroke-width="1.3"/>
<line x1="353.6" y1="175.4" x2="356.5" y2="175.4" stroke="#111" stroke-width="1.3"/>
<line x1="351.9" y1="171.18" x2="356.5" y2="171.18" stroke="#111" stroke-width="1.3"/>
<line x1="353.6" y1="166.96" x2="356.5" y2="166.96" stroke="#111" stroke-width="1.3"/>
<line x1="353.6" y1="162.74" x2="356.5" y2="162.74" stroke="#111" stroke-width="1.3"/>
<line x1="353.6" y1="158.52" x2="356.5" y2="158.52" stroke="#111" stroke-width="1.3"/>
<line x1="353.6" y1="154.3" x2="356.5" y2="154.3" stroke="#111" stroke-width="1.3"/>
<line x1="353.6" y1="150.08" x2="356.5" y2="150.08" stroke="#111" stroke-width="1.3"/>
<line x1="351.9" y1="145.86" x2="356.5" y2="145.86" stroke="#111" stroke-width="1.3"/>
<line x1="353.6" y1="141.64" x2="356.5" y2="141.64" stroke="#111" stroke-width="1.3"/>
<line x1="353.6" y1="137.42000000000002" x2="356.5" y2="137.42000000000002" stroke="#111" stroke-width="1.3"/>
<line x1="353.6" y1="133.2" x2="356.5" y2="133.2" stroke="#111" stroke-width="1.3"/>
<line x1="353.6" y1="128.98000000000002" x2="356.5" y2="128.98000000000002" stroke="#111" stroke-width="1.3"/>
<line x1="353.6" y1="124.76" x2="356.5" y2="124.76" stroke="#111" stroke-width="1.3"/>
<line x1="351.9" y1="120.54" x2="356.5" y2="120.54" stroke="#111" stroke-width="1.3"/>
<line x1="353.6" y1="116.32000000000001" x2="356.5" y2="116.32000000000001" stroke="#111" stroke-width="1.3"/>
<line x1="353.6" y1="112.10000000000001" x2="356.5" y2="112.10000000000001" stroke="#111" stroke-width="1.3"/>
<line x1="353.6" y1="107.88000000000001" x2="356.5" y2="107.88000000000001" stroke="#111" stroke-width="1.3"/>
<line x1="353.6" y1="103.66000000000001" x2="356.5" y2="103.66000000000001" stroke="#111" stroke-width="1.3"/>
<line x1="353.6" y1="99.44000000000001" x2="356.5" y2="99.44000000000001" stroke="#111" stroke-width="1.3"/>
<line x1="351.9" y1="95.22" x2="356.5" y2="95.22" stroke="#111" stroke-width="1.3"/>
<line x1="353.6" y1="91.0" x2="356.5" y2="91.0" stroke="#111" stroke-width="1.3"/>
<line x1="353.6" y1="86.78" x2="356.5" y2="86.78" stroke="#111" stroke-width="1.3"/>
<line x1="353.6" y1="82.56" x2="356.5" y2="82.56" stroke="#111" stroke-width="1.3"/>
<line x1="353.6" y1="78.34" x2="356.5" y2="78.34" stroke="#111" stroke-width="1.3"/>
<line x1="353.6" y1="74.12" x2="356.5" y2="74.12" stroke="#111" stroke-width="1.3"/>
<line x1="351.9" y1="69.9" x2="356.5" y2="69.9" stroke="#111" stroke-width="1.3"/>
<line x1="353.6" y1="65.68" x2="356.5" y2="65.68" stroke="#111" stroke-width="1.3"/>
<line x1="353.6" y1="61.46000000000001" x2="356.5" y2="61.46000000000001" stroke="#111" stroke-width="1.3"/>
<line x1="353.6" y1="57.24000000000001" x2="356.5" y2="57.24000000000001" stroke="#111" stroke-width="1.3"/>
<line x1="51.9" y1="114.4" x2="73" y2="96.1" stroke="#111" stroke-width="1.4"/>
<text x="76.4" y="101.7" font-family="Liberation Serif" font-size="18" fill="#7ccc3c">13</text>
<line x1="228.1" y1="118.1" x2="248.9" y2="101.5" stroke="#111" stroke-width="1.4"/>
<line x1="229.3" y1="142" x2="249.5" y2="126" stroke="#111" stroke-width="1.4"/>
<text x="252.4" y="101.5" font-family="Liberation Serif" font-size="18" fill="#d42a30">17</text>
<text x="255.4" y="124.8" font-family="Liberation Serif" font-size="18" fill="#5a55c8">15</text>
<line x1="419.5" y1="119.9" x2="439.7" y2="102.7" stroke="#111" stroke-width="1.4"/>
<line x1="421.3" y1="141.9" x2="441.5" y2="127.2" stroke="#111" stroke-width="1.4"/>
<text x="442.9" y="101.8" font-family="Liberation Serif" font-size="18" fill="#d42a30">50</text>
<text x="447.5" y="129.9" font-family="Liberation Serif" font-size="18" fill="#5a55c8">40</text>
<text transform="translate(43.3,462.6) rotate(-90)" font-family="Liberation Serif" font-size="18">Ratio of transcription level</text>
<text transform="translate(62,453.6) rotate(-90)" font-family="Liberation Serif" font-size="18">(Relative arbitrary units)</text>
<line x1="92.4" y1="289.5" x2="92.4" y2="448.6" stroke="#000" stroke-width="1.3"/>
<line x1="90" y1="448" x2="203" y2="448" stroke="#000" stroke-width="1.3"/>
<line x1="90" y1="290" x2="92.4" y2="290" stroke="#000" stroke-width="1.2"/>
<line x1="90" y1="342.5" x2="92.4" y2="342.5" stroke="#000" stroke-width="1.2"/>
<line x1="90" y1="395.3" x2="92.4" y2="395.3" stroke="#000" stroke-width="1.2"/>
<line x1="147.7" y1="448" x2="147.7" y2="444.8" stroke="#000" stroke-width="1.1"/>
<line x1="202.8" y1="448" x2="202.8" y2="444.5" stroke="#000" stroke-width="1.1"/>
<text x="89.3" y="293.1" font-family="Liberation Serif" font-size="16.2" text-anchor="end">1.5</text>
<text x="89.6" y="345.4" font-family="Liberation Serif" font-size="16.2" text-anchor="end">1.0</text>
<text x="89.6" y="399.6" font-family="Liberation Serif" font-size="16.2" text-anchor="end">0.5</text>
<text x="86.0" y="453.0" font-family="Liberation Serif" font-size="16.2" text-anchor="end">0</text>
<rect x="98" y="342.5" width="22" height="105.5" fill="#fff" stroke="#000" stroke-width="1.1"/>
<rect x="120" y="339.5" width="22.900000000000006" height="108.5" fill="#000" stroke="#000" stroke-width="1.1"/>
<line x1="131.4" y1="339.5" x2="131.4" y2="333.8" stroke="#000" stroke-width="1.1"/>
<line x1="129.8" y1="333.8" x2="133.0" y2="333.8" stroke="#000" stroke-width="1.3"/>
<rect x="153.5" y="342.5" width="21.900000000000006" height="105.5" fill="#fff" stroke="#000" stroke-width="1.1"/>
<rect x="175.4" y="308.3" width="23.099999999999994" height="139.7" fill="#000" stroke="#000" stroke-width="1.1"/>
<line x1="186.9" y1="308.3" x2="186.9" y2="299.3" stroke="#000" stroke-width="1.1"/>
<line x1="185.3" y1="299.3" x2="188.5" y2="299.3" stroke="#000" stroke-width="1.3"/>
<text x="104.6" y="470.8" font-family="Liberation Serif" font-size="18">Fas</text>
<text x="160" y="470.8" font-family="Liberation Serif" font-size="18">FasL</text>
<text transform="translate(263.3,448.4) rotate(-90)" font-family="Liberation Serif" font-size="18.2">Transcription (OD450)</text>
<line x1="302.2" y1="286.3" x2="302.2" y2="446.3" stroke="#000" stroke-width="1.3"/>
<line x1="299" y1="445.7" x2="493" y2="445.7" stroke="#000" stroke-width="1.3"/>
<line x1="298.6" y1="286.8" x2="302.2" y2="286.8" stroke="#000" stroke-width="1.2"/>
<line x1="298.6" y1="318.58000000000004" x2="302.2" y2="318.58000000000004" stroke="#000" stroke-width="1.2"/>
<line x1="298.6" y1="350.36" x2="302.2" y2="350.36" stroke="#000" stroke-width="1.2"/>
<line x1="298.6" y1="382.14" x2="302.2" y2="382.14" stroke="#000" stroke-width="1.2"/>
<line x1="298.6" y1="413.92" x2="302.2" y2="413.92" stroke="#000" stroke-width="1.2"/>
<line x1="298.6" y1="445.70000000000005" x2="302.2" y2="445.70000000000005" stroke="#000" stroke-width="1.2"/>
<line x1="365.8" y1="445.7" x2="365.8" y2="442.5" stroke="#000" stroke-width="1.1"/>
<line x1="429.4" y1="445.7" x2="429.4" y2="442.5" stroke="#000" stroke-width="1.1"/>
<line x1="493" y1="445.7" x2="493" y2="442.5" stroke="#000" stroke-width="1.1"/>
<text x="294.8" y="290.8" font-family="Liberation Serif" font-size="15.8" text-anchor="end">0.5</text>
<text x="294.8" y="323.2" font-family="Liberation Serif" font-size="15.8" text-anchor="end">0.4</text>
<text x="294.8" y="356.5" font-family="Liberation Serif" font-size="15.8" text-anchor="end">0.3</text>
<text x="294.8" y="387.7" font-family="Liberation Serif" font-size="15.8" text-anchor="end">0.2</text>
<text x="294.8" y="419.6" font-family="Liberation Serif" font-size="15.8" text-anchor="end">0.1</text>
<text x="294.8" y="452.6" font-family="Liberation Serif" font-size="15.8" text-anchor="end">0</text>
<rect x="308.1" y="417.1" width="17.30000000000001" height="28.599999999999966" fill="#fff" stroke="#000" stroke-width="1.1"/>
<rect x="325.40000000000003" y="396.1" width="17.30000000000001" height="49.599999999999966" fill="#838383" stroke="#000" stroke-width="1.1"/>
<line x1="334.05000000000007" y1="398.3478" x2="334.05000000000007" y2="393.8986" stroke="#000" stroke-width="1.1"/>
<line x1="332.45000000000005" y1="393.8986" x2="335.6500000000001" y2="393.8986" stroke="#000" stroke-width="1.3"/>
<line x1="332.45000000000005" y1="398.3478" x2="335.6500000000001" y2="398.3478" stroke="#000" stroke-width="1.3"/>
<rect x="342.70000000000005" y="381.5" width="17.30000000000001" height="64.19999999999999" fill="#000" stroke="#000" stroke-width="1.1"/>
<line x1="351.35" y1="382.14" x2="351.35" y2="380.86879999999996" stroke="#000" stroke-width="1.1"/>
<line x1="349.75" y1="380.86879999999996" x2="352.95000000000005" y2="380.86879999999996" stroke="#000" stroke-width="1.3"/>
<line x1="349.75" y1="382.14" x2="352.95000000000005" y2="382.14" stroke="#000" stroke-width="1.3"/>
<rect x="371.5" y="413.6" width="17.30000000000001" height="32.099999999999966" fill="#fff" stroke="#000" stroke-width="1.1"/>
<line x1="380.15" y1="413.91999999999996" x2="380.15" y2="413.2844" stroke="#000" stroke-width="1.1"/>
<line x1="378.54999999999995" y1="413.2844" x2="381.75" y2="413.2844" stroke="#000" stroke-width="1.3"/>
<line x1="378.54999999999995" y1="413.91999999999996" x2="381.75" y2="413.91999999999996" stroke="#000" stroke-width="1.3"/>
<rect x="388.8" y="402.2" width="17.30000000000001" height="43.5" fill="#838383" stroke="#000" stroke-width="1.1"/>
<line x1="397.45000000000005" y1="402.79699999999997" x2="397.45000000000005" y2="401.5258" stroke="#000" stroke-width="1.1"/>
<line x1="395.85" y1="401.5258" x2="399.05000000000007" y2="401.5258" stroke="#000" stroke-width="1.3"/>
<line x1="395.85" y1="402.79699999999997" x2="399.05000000000007" y2="402.79699999999997" stroke="#000" stroke-width="1.3"/>
<rect x="406.1" y="394.5" width="17.30000000000001" height="51.19999999999999" fill="#000" stroke="#000" stroke-width="1.1"/>
<rect x="434.9" y="429.8" width="17.30000000000001" height="15.899999999999977" fill="#fff" stroke="#000" stroke-width="1.1"/>
<line x1="443.54999999999995" y1="431.7168" x2="443.54999999999995" y2="427.90319999999997" stroke="#000" stroke-width="1.1"/>
<line x1="441.94999999999993" y1="427.90319999999997" x2="445.15" y2="427.90319999999997" stroke="#000" stroke-width="1.3"/>
<line x1="441.94999999999993" y1="431.7168" x2="445.15" y2="431.7168" stroke="#000" stroke-width="1.3"/>
<rect x="452.2" y="364.3" width="17.30000000000001" height="81.39999999999998" fill="#838383" stroke="#000" stroke-width="1.1"/>
<line x1="460.85" y1="371.017" x2="460.85" y2="357.6694" stroke="#000" stroke-width="1.1"/>
<line x1="459.25" y1="357.6694" x2="462.45000000000005" y2="357.6694" stroke="#000" stroke-width="1.3"/>
<line x1="459.25" y1="371.017" x2="462.45000000000005" y2="371.017" stroke="#000" stroke-width="1.3"/>
<rect x="469.5" y="308.7" width="17.30000000000001" height="137.0" fill="#000" stroke="#000" stroke-width="1.1"/>
<line x1="478.15" y1="324.6182" x2="478.15" y2="292.83820000000003" stroke="#000" stroke-width="1.1"/>
<line x1="476.54999999999995" y1="292.83820000000003" x2="479.75" y2="292.83820000000003" stroke="#000" stroke-width="1.3"/>
<line x1="476.54999999999995" y1="324.6182" x2="479.75" y2="324.6182" stroke="#000" stroke-width="1.3"/>
<text x="305.5" y="468.7" font-family="Liberation Serif" font-size="17.8">NF-kB</text>
<text x="315.2" y="484.2" font-family="Liberation Serif" font-size="17.8">p65</text>
<text x="373.7" y="468.7" font-family="Liberation Serif" font-size="17.8">NF-kB</text>
<text x="382.6" y="484.2" font-family="Liberation Serif" font-size="17.8">p50</text>
<text x="447.2" y="467.7" font-family="Liberation Serif" font-size="17.8">c-Jun</text>
</svg>
</body></html>
